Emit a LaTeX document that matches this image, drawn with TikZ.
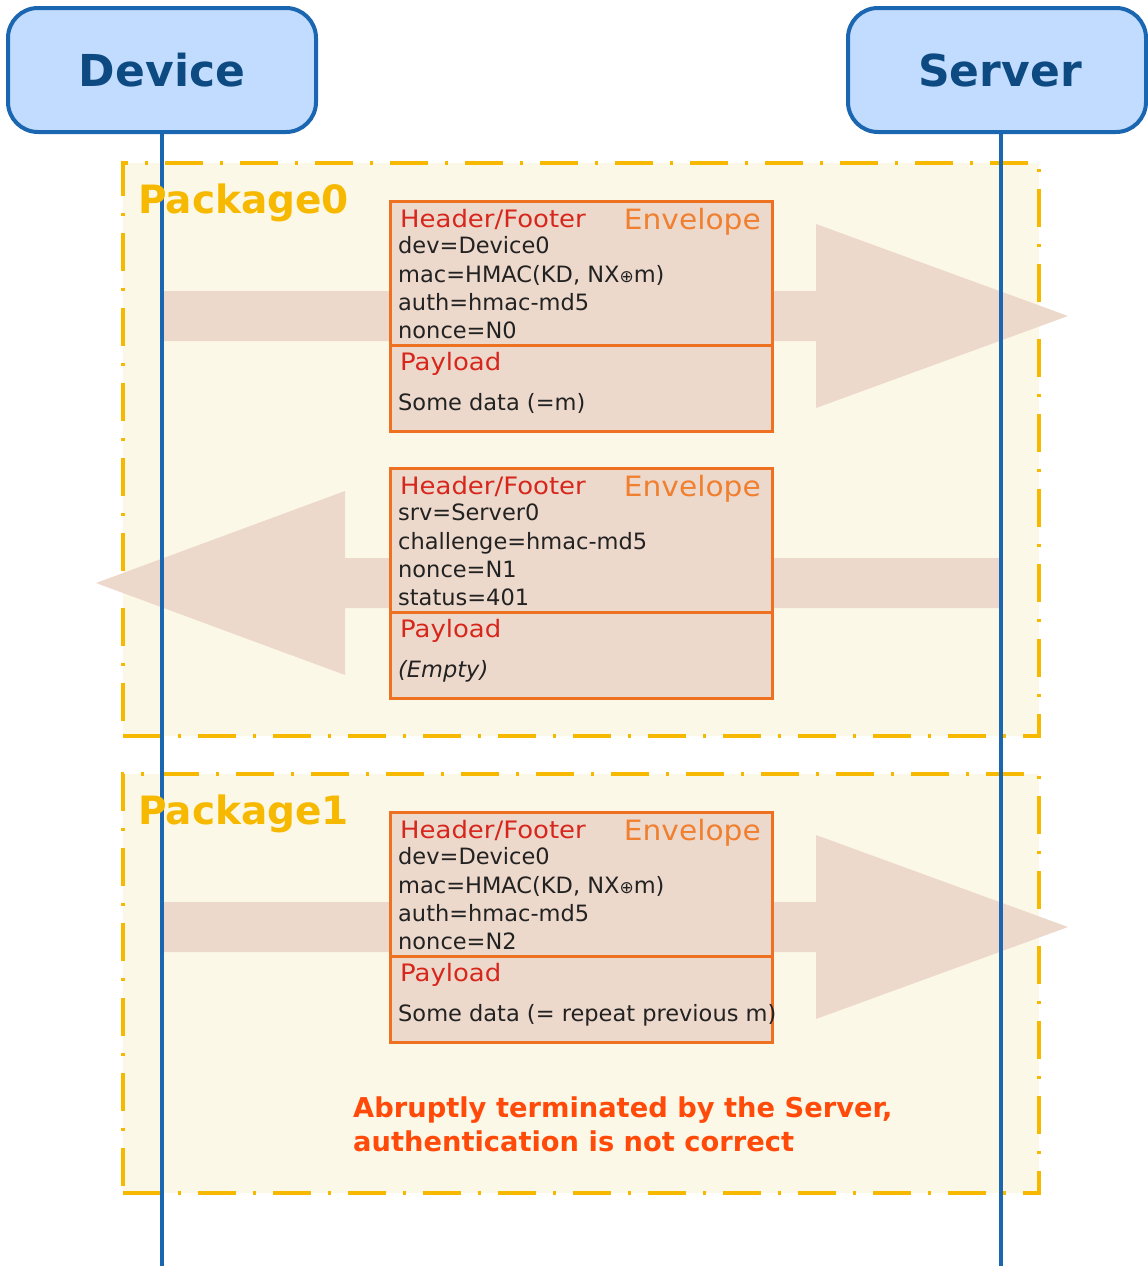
\documentclass[tikz,border=0pt]{standalone}
\usepackage{fontspec}
\setmainfont{DejaVu Sans}
\newfontfamily\lblfont[FakeStretch=1.08]{DejaVu Sans}
\newfontfamily\envfont[FakeStretch=1.06]{DejaVu Sans}
\definecolor{actfill}{HTML}{C2DCFF}
\definecolor{actdraw}{HTML}{1B66B1}
\definecolor{acttext}{HTML}{0D4A82}
\definecolor{pkgfill}{HTML}{FCF8E7}
\definecolor{pkgdraw}{HTML}{F7B900}
\definecolor{msgfill}{HTML}{EDD9CC}
\definecolor{msgdraw}{HTML}{EE7121}
\definecolor{hdrtext}{HTML}{D7261C}
\definecolor{envtext}{HTML}{F08030}
\definecolor{bodytext}{HTML}{222222}
\definecolor{alerttext}{HTML}{FF4A0A}
\begin{document}
\begin{tikzpicture}[x=1pt,y=-1pt,
  actor/.style={draw=actdraw,fill=actfill,line width=4pt,rounded corners=30pt,outer sep=0pt,
    text=acttext,font=\fontsize{44}{50}\selectfont\bfseries,inner sep=0pt},
  life/.style={draw=actdraw,line width=4pt},
  pkg/.style={draw=pkgdraw,fill=pkgfill,line width=4pt,outer sep=0pt,
    dash pattern=on 38pt off 17pt on 3pt off 17pt,inner sep=0pt,anchor=north west},
  pkglabel/.style={text=pkgdraw,font=\fontsize{39}{44}\selectfont\bfseries,anchor=base west,inner sep=0pt},
  bigarrow/.style={fill=msgfill,draw=none},
  msgbox/.style={draw=msgdraw,fill=msgfill,line width=3pt,inner sep=0pt,outer sep=0pt,
    anchor=north west,minimum width=382pt},
  hdr/.style={text=hdrtext,font=\lblfont\fontsize{24}{28}\selectfont,anchor=base west,inner sep=0pt},
  env/.style={text=envtext,font=\envfont\fontsize{28}{32}\selectfont,anchor=base east,inner sep=0pt},
  body/.style={text=bodytext,font=\fontsize{22.5}{26}\selectfont,anchor=base west,inner sep=0pt},
  alert/.style={text=alerttext,font=\fontsize{27.3}{32}\selectfont\bfseries,anchor=base west,inner sep=0pt}
]
\useasboundingbox (0,0) rectangle (1148,1266);
\newcommand{\xor}{{\fontsize{17}{17}\selectfont ⊕}}

% packages
\node[pkg,minimum width=916pt,minimum height=573pt] (p0) at (123,163) {};
\node[pkg,minimum width=916pt,minimum height=419pt] (p1) at (123,774) {};

% big arrows
\draw[bigarrow] (162,291) -- (816,291) -- (816,224) -- (1068,316) -- (816,408) -- (816,341) -- (162,341) -- cycle;
\draw[bigarrow] (1001,558) -- (345,558) -- (345,491) -- (96,583) -- (345,675) -- (345,608) -- (1001,608) -- cycle;
\draw[bigarrow] (162,902) -- (816,902) -- (816,835) -- (1068,927) -- (816,1019) -- (816,952) -- (162,952) -- cycle;

% actors and lifelines
\node[actor,minimum width=308pt,minimum height=124pt] (dev) at (162,70) {Device};
\node[actor,minimum width=298pt,minimum height=124pt] (srv) at (997,70) {\hspace*{6pt}Server};
\coordinate (devend) at (162,1266);
\coordinate (srvend) at (1001,1266);
\draw[life] (dev.south) -- (devend);
\draw[life] (srv.south -| srvend) -- (srvend);

\node[pkglabel] (p0l) at (138,213) {Package0};
\node[pkglabel] (p1l) at (138,824) {Package1};

% message 1
\node[msgbox,minimum height=144pt] (h1) at (390,201) {};
\node[msgbox,minimum height=86pt] (b1) at (h1.south west) {};
\node[hdr] (h1a) at (400,227) {Header/Footer};
\node[env] (h1b) at (761,229) {Envelope};
\node[body] (h1c) at (398,253) {dev=Device0};
\node[body] (h1d) at (398,282) {mac=HMAC(KD, NX\xor m)};
\node[body] (h1e) at (398,310) {auth=hmac-md5};
\node[body] (h1f) at (398,338) {nonce=N0};
\node[hdr] (b1a) at (400,370) {Payload};
\node[body] (b1b) at (398,410) {Some data (=m)};

% message 2
\node[msgbox,minimum height=144pt] (h2) at (390,468) {};
\node[msgbox,minimum height=86pt] (b2) at (h2.south west) {};
\node[hdr] (h2a) at (400,494) {Header/Footer};
\node[env] (h2b) at (761,496) {Envelope};
\node[body] (h2c) at (398,520) {srv=Server0};
\node[body] (h2d) at (398,549) {challenge=hmac-md5};
\node[body] (h2e) at (398,577) {nonce=N1};
\node[body] (h2f) at (398,605) {status=401};
\node[hdr] (b2a) at (400,637) {Payload};
\node[body] (b2b) at (398,677) {\itshape (Empty)};

% message 3
\node[msgbox,minimum height=144pt] (h3) at (390,812) {};
\node[msgbox,minimum height=86pt] (b3) at (h3.south west) {};
\node[hdr] (h3a) at (400,838) {Header/Footer};
\node[env] (h3b) at (761,840) {Envelope};
\node[body] (h3c) at (398,864) {dev=Device0};
\node[body] (h3d) at (398,893) {mac=HMAC(KD, NX\xor m)};
\node[body] (h3e) at (398,921) {auth=hmac-md5};
\node[body] (h3f) at (398,949) {nonce=N2};
\node[hdr] (b3a) at (400,981) {Payload};
\node[body] (b3b) at (398,1021) {Some data (= repeat previous m)};

\node[alert] (al1) at (353,1117) {Abruptly terminated by the Server,};
\node[alert] (al2) at (353,1151) {authentication is not correct};
\end{tikzpicture}
\end{document}
